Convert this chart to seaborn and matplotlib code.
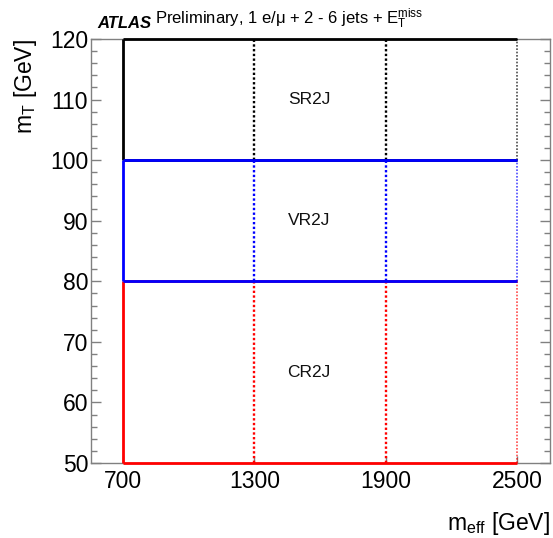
import matplotlib
matplotlib.use("Agg")
import matplotlib.pyplot as plt
import seaborn as sns
from matplotlib.ticker import MultipleLocator, FixedLocator

# ---- data ----
regions = ["SR2J", "VR2J", "CR2J"]
mt_low = [100, 80, 50]
mt_high = [120, 100, 80]
region_colors = ["black", "blue", "red"]
meff_edges = [700, 1300, 1900, 2500]
label_meff = 1550
xticks = [700, 1300, 1900, 2500]
yticks = [50, 60, 70, 80, 90, 100, 110, 120]

sns.set_theme(style="ticks")
plt.rcParams["font.family"] = ["Liberation Sans", "DejaVu Sans"]
plt.rcParams["mathtext.fontset"] = "custom"
plt.rcParams["mathtext.rm"] = "Liberation Sans"
plt.rcParams["mathtext.it"] = "Liberation Sans:italic"
plt.rcParams["mathtext.bf"] = "Liberation Sans:bold"
plt.rcParams["text.color"] = "black"
plt.rcParams["axes.labelcolor"] = "black"

fig = plt.figure(figsize=(5.53, 5.38), dpi=100)
ax = fig.add_axes([91/553, 1-463/538, 459/553, 424/538])

# drawing order: SR, CR, VR so that blue edges sit on top of shared edges
order = [0, 2, 1]
for z, k in enumerate(order):
    name, lo, hi, col = regions[k], mt_low[k], mt_high[k], region_colors[k]
    zz = 3 + z
    # bin boundaries dotted
    for i, xe in enumerate(meff_edges[1:]):
        last = (i == len(meff_edges) - 2)
        ax.vlines(xe, lo, hi, colors=col, lw=1.2 if last else 1.7,
                  linestyles=(0, (1, 1)), alpha=0.7 if last else 1.0,
                  zorder=zz, clip_on=False)
    # solid horizontal edges
    ax.hlines([lo, hi], meff_edges[0], meff_edges[-1], colors=col, lw=2.0,
              zorder=zz + 0.5, clip_on=False)
    # left edge solid
    ax.vlines(meff_edges[0], lo, hi, colors=col, lw=2.0, zorder=zz + 0.5, clip_on=False)
    ax.text(label_meff, (lo + hi) / 2, name, ha="center", va="center",
            fontsize=12.5, color="#111111")

ax.set_xlim(554, 2650)
ax.set_ylim(50, 120)
ax.xaxis.set_major_locator(FixedLocator(xticks))
ax.yaxis.set_major_locator(FixedLocator(yticks))
ax.yaxis.set_minor_locator(MultipleLocator(2))
ax.tick_params(axis="y", which="major", direction="in", length=7, width=1,
               color="#808080", labelcolor="black", left=True, right=True,
               labelsize=16.5, pad=2)
ax.tick_params(axis="y", which="minor", direction="in", length=4, width=1,
               color="#808080", left=True, right=True)
ax.tick_params(axis="x", which="major", direction="in", length=5, width=1,
               color="#808080", labelcolor="black", labelsize=16.5, pad=5)
for s in ax.spines.values():
    s.set_color("#808080")
    s.set_linewidth(1.0)
    s.set_zorder(2)

ax.set_xlabel(r"$\mathrm{m}_{\mathrm{eff}}$ [GeV]", fontsize=16.5, loc="right", labelpad=12)
ax.set_ylabel(r"$\mathrm{m}_{\mathrm{T}}$ [GeV]", fontsize=16.5, loc="top", labelpad=8)

t = ax.text(0.013, 1.018, "ATLAS", transform=ax.transAxes, fontsize=12,
            fontweight="bold", fontstyle="italic", ha="left", va="bottom")
ax.annotate(r"Preliminary, 1 e/μ + 2 - 6 jets + $\mathrm{E}_{\mathrm{T}}^{\mathrm{miss}}$",
            xy=(1, 0), xycoords=t, xytext=(3, 0), textcoords="offset points",
            fontsize=12, ha="left", va="bottom")

fig.savefig("out.png", dpi=100)
